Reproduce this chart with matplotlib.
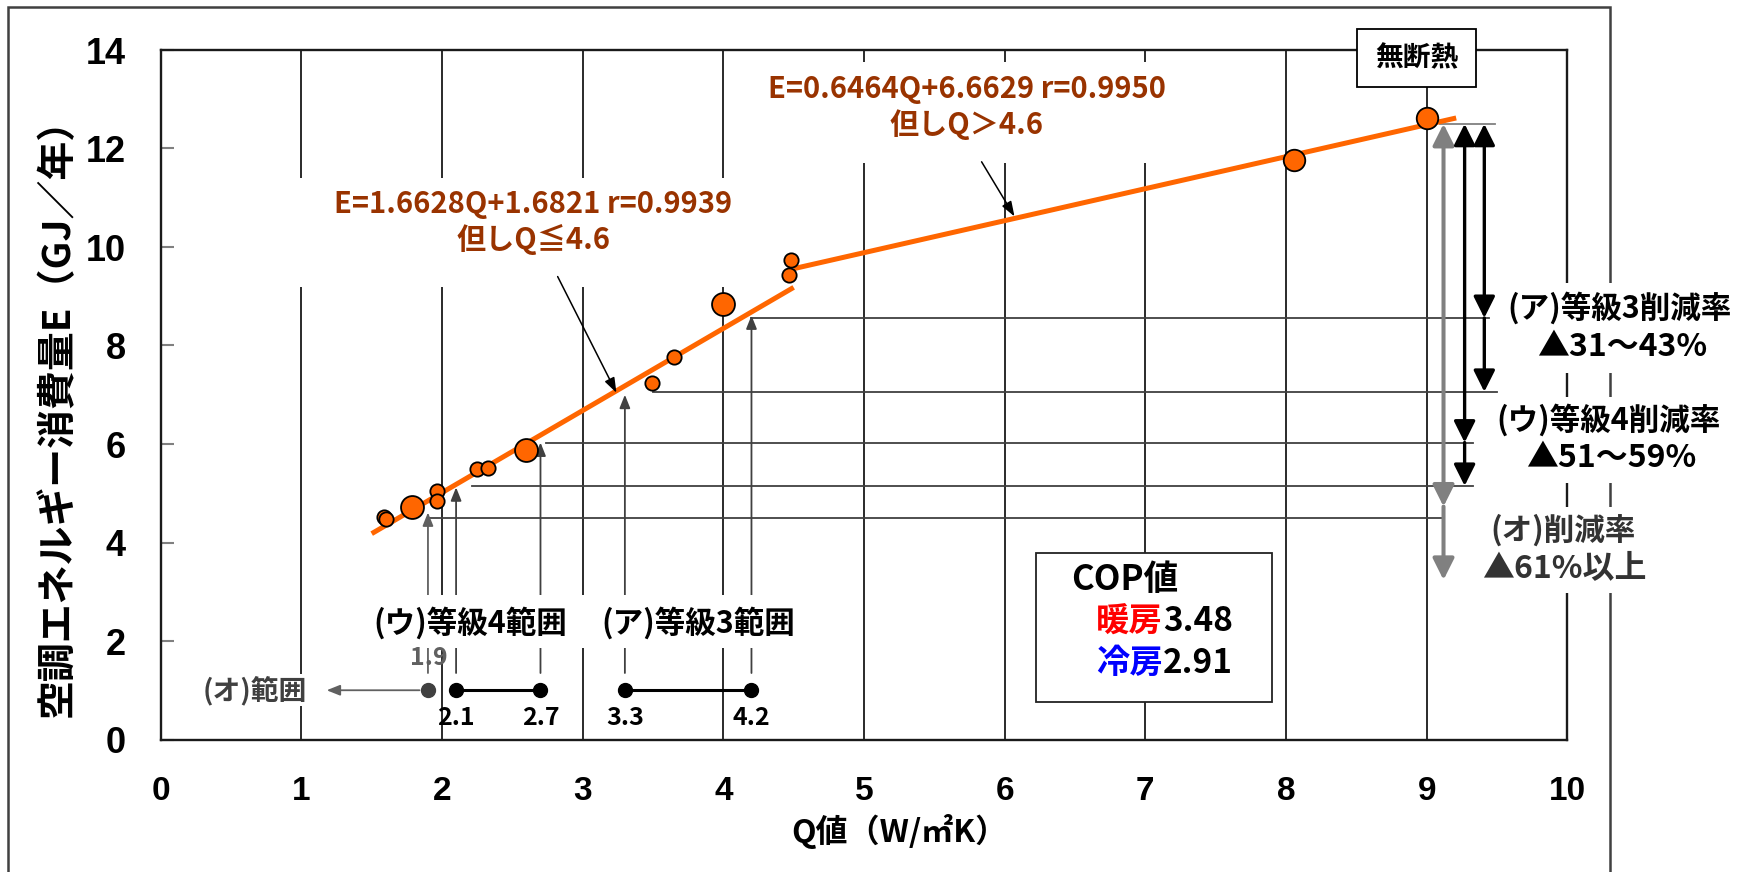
import matplotlib
matplotlib.use('Agg')
import matplotlib.pyplot as plt
from matplotlib.patches import Rectangle

plt.rcParams['font.family'] = ['Noto Sans CJK JP', 'DejaVu Sans']

# ---------------- data ----------------
q_small = [1.585, 1.60, 1.962, 1.962, 2.249, 2.325, 3.49, 3.65, 4.47, 4.48]
e_small = [4.51, 4.47, 5.05, 4.85, 5.49, 5.51, 7.24, 7.77, 9.43, 9.74]
q_large = [1.79, 2.597, 4.0]
e_large = [4.73, 5.88, 8.84]
q_mid = [8.055, 9.0]
e_mid = [11.77, 12.62]

line1_q = [1.5, 4.5]
line1_e = [4.18, 9.18]
line2_q = [4.5, 9.21]
line2_e = [9.56, 12.62]

# reference (horizontal) lines
ref_levels = [4.50, 5.15, 6.03, 7.06, 8.56]
ref_start = [1.91, 2.215, 2.74, 3.50, 4.20]
ref_end = [9.12, 9.33, 9.33, 9.50, 9.44]
top_level = 12.5
top_range = [9.095, 9.486]

# vertical arrows from ranges to regression line
arrow_q = [1.9, 2.1, 2.7, 3.3, 4.2]
arrow_tip = [4.61, 5.12, 6.03, 7.0, 8.61]
arrow_base = 1.35
arrow_colors = ['#606060', '#404040', '#404040', '#404040', '#404040']

# range dots
range_y = 1.0
range_o_q = [1.9]
range_u_q = [2.1, 2.7]
range_a_q = [3.3, 4.2]
range_labels = ['1.9', '2.1', '2.7', '3.3', '4.2']

# reduction arrows on right
red_x = [9.12, 9.27, 9.41]
red_mid = [4.73, 6.03, 8.56]
red_bot = [3.24, 5.15, 7.06]
red_colors = ['#808080', 'black', 'black']
red_lw = [2.9, 2.4, 2.4]

x_ticks = list(range(0, 11))
y_ticks = list(range(0, 15, 2))
x_ticklabels = [str(v) for v in x_ticks]
y_ticklabels = [str(v) for v in y_ticks]

ORANGE = '#FF6600'
BROWN = '#993300'

W, H = 1749, 872
fig = plt.figure(figsize=(W / 100, H / 100), dpi=100)
ax = fig.add_axes([160.7 / W, 1 - 739.5 / H, (1567.3 - 160.7) / W, (739.5 - 50) / H])
ax.set_xlim(0, 10)
ax.set_ylim(0, 14)

# outer frame
fig.add_artist(Rectangle((8 / W, -0.1), (1610 - 8) / W, 1.1 - 7.3 / H,
                         transform=fig.transFigure, fill=False, ec='#404040',
                         lw=1.8, zorder=-1))

ax.set_axisbelow(True)
ax.grid(axis='x', color='#2a2a2a', lw=1.4)
ax.grid(axis='y', visible=False)
for s in ax.spines.values():
    s.set_linewidth(1.7)
    s.set_color('#1a1a1a')

ax.set_xticks(x_ticks)
ax.set_yticks(y_ticks)
ax.set_xticklabels(x_ticklabels, fontfamily='Liberation Sans', fontweight='bold', fontsize=24)
ax.set_yticklabels(y_ticklabels, fontfamily='Liberation Sans', fontweight='bold', fontsize=26)
ax.tick_params(axis='x', length=0, pad=26)
ax.tick_params(axis='y', direction='in', length=9, width=1.5, color='#808080', pad=25)

fig.text(57 / W, 1 - 408 / H, '空調エネルギー消費量E（GJ／年）', rotation=90,
         ha='center', va='center', fontsize=28, fontweight='bold')
fig.text(899 / W, 1 - 831 / H, 'Q値（W/㎡K）', ha='center', va='center',
         fontsize=23, fontweight='bold')


def arrow(x0, y0, x1, y1, style, color, lw, hl, hw, z):
    ax.annotate('', xy=(x1, y1), xytext=(x0, y0),
                arrowprops=dict(arrowstyle=f'{style},head_length={hl},head_width={hw}',
                                color=color, lw=lw, shrinkA=0, shrinkB=0,
                                mutation_scale=1),
                zorder=z, annotation_clip=False)


def white_box(x0, y0, x1, y1, z=2.6, ec='none', lw=0):
    ax.add_patch(Rectangle((x0, y0), x1 - x0, y1 - y0, fc='white', ec=ec, lw=lw,
                           zorder=z, clip_on=False))


# horizontal reference lines
for lv, xs, xe in zip(ref_levels, ref_start, ref_end):
    ax.plot([xs, xe], [lv, lv], color='#404040', lw=1.3, zorder=1)
ax.plot(top_range, [top_level, top_level], color='#808080', lw=1.3, zorder=1)

# vertical arrows from range dots
for q, tip, c in zip(arrow_q, arrow_tip, arrow_colors):
    arrow(q, arrow_base, q, tip, '-|>', c, 1.3, 8, 3.2, 1)

# range dots
ax.plot(range_o_q, [range_y] * len(range_o_q), 'o', color='#404040', ms=10, zorder=4, clip_on=False)
ax.plot(range_u_q, [range_y] * 2, '-o', color='black', ms=10, lw=2.2, zorder=4)
ax.plot(range_a_q, [range_y] * 2, '-o', color='black', ms=10, lw=2.2, zorder=4)
arrow(range_o_q[0] - 0.06, range_y, 1.18, range_y, '-|>', '#606060', 1.3, 8, 3.2, 4)
ax.text(1.04, range_y, '(オ)範囲', ha='right', va='center', fontsize=20,
        fontweight='bold', color='#404040', zorder=5,
        bbox=dict(fc='white', ec='none', pad=1))

ax.text(arrow_q[0] + 0.005, 1.65, range_labels[0], ha='center', va='center', fontsize=18,
        fontweight='bold', color='#606060', zorder=5)
for q, lab in zip(arrow_q[1:], range_labels[1:]):
    ax.text(q, 0.44, lab, ha='center', va='center', fontsize=18, fontweight='bold',
            color='black', zorder=5)

# label box for grades
white_box(1.417, 1.86, 4.58, 2.93)
ax.text(2.20, 2.36, '(ウ)等級4範囲', ha='center', va='center', fontsize=22,
        fontweight='bold', zorder=5)
ax.text(3.82, 2.36, '(ア)等級3範囲', ha='center', va='center', fontsize=22,
        fontweight='bold', zorder=5)

# regression lines
ax.plot(line1_q, line1_e, color=ORANGE, lw=3.6, zorder=3, solid_capstyle='butt')
ax.plot(line2_q, line2_e, color=ORANGE, lw=3.6, zorder=3, solid_capstyle='butt')

# points
ax.plot(q_small, e_small, 'o', ms=10.3, mfc=ORANGE, mec='black', mew=1.3, zorder=4)
ax.plot(q_large, e_large, 'o', ms=16.5, mfc=ORANGE, mec='black', mew=1.3, zorder=4)
ax.plot(q_mid, e_mid, 'o', ms=15.5, mfc=ORANGE, mec='black', mew=1.3, zorder=4)

# equation 1
white_box(0.955, 9.19, 4.19, 11.40)
ax.text(2.65, 10.50, 'E=1.6628Q+1.6821 r=0.9939\n但しQ≦4.6', ha='center', va='center',
        fontsize=21, fontweight='bold', color=BROWN, linespacing=1.2, zorder=5)
arrow(2.822, 9.40, 3.24, 7.04, '-|>', 'black', 1.1, 9, 3.2, 5)

# equation 2
white_box(4.26, 11.71, 7.21, 13.76)
ax.text(5.73, 12.84, 'E=0.6464Q+6.6629 r=0.9950\n但しQ＞4.6', ha='center', va='center',
        fontsize=21, fontweight='bold', color=BROWN, linespacing=1.2, zorder=5)
arrow(5.836, 11.73, 6.07, 10.62, '-|>', 'black', 1.1, 9, 3.2, 5)

# 無断熱 box
white_box(8.507, 13.25, 9.35, 14.43, z=6, ec='black', lw=1.3)
ax.text(8.93, 13.84, '無断熱', ha='center', va='center', fontsize=20,
        fontweight='bold', zorder=7)

# reduction arrows
for x, mid, bot, c, lw in zip(red_x, red_mid, red_bot, red_colors, red_lw):
    arrow(x, mid, x, top_level, '<|-|>', c, lw, 13, 6.5, 3)
    arrow(x, mid, x, bot, '-|>', c, lw, 13, 6.5, 3)

# right-side text blocks
white_box(9.52, 7.44, 11.26, 9.27)
ax.text(10.37, 8.76, '(ア)等級3削減率', ha='center', va='center', fontsize=22,
        fontweight='bold', zorder=5, clip_on=False)
ax.text(10.39, 7.97, '▲31～43%', ha='center', va='center', fontsize=23,
        fontweight='bold', zorder=5, clip_on=False)
white_box(9.45, 5.21, 11.26, 6.95)
ax.text(10.29, 6.49, '(ウ)等級4削減率', ha='center', va='center', fontsize=22,
        fontweight='bold', zorder=5, clip_on=False)
ax.text(10.31, 5.72, '▲51～59%', ha='center', va='center', fontsize=23,
        fontweight='bold', zorder=5, clip_on=False)
white_box(9.37, 2.98, 11.26, 4.72)
ax.text(9.97, 4.25, '(オ)削減率', ha='center', va='center', fontsize=22,
        fontweight='bold', color='#333333', zorder=5, clip_on=False)
ax.text(9.98, 3.48, '▲61%以上', ha='center', va='center', fontsize=23,
        fontweight='bold', color='#333333', zorder=5, clip_on=False)

# COP box
white_box(6.22, 0.76, 7.90, 3.79, ec='#222222', lw=1.3)
ax.text(6.47, 3.24, 'COP値', ha='left', va='center', fontsize=25,
        fontweight='bold', zorder=5)
t1 = ax.text(6.65, 2.39, '暖房', ha='left', va='center', fontsize=24,
             fontweight='bold', color='#FF0000', zorder=5)
ax.annotate('3.48', xy=(1, 0.5), xycoords=t1, ha='left', va='center', fontsize=24,
            fontweight='bold', zorder=5)
t2 = ax.text(6.65, 1.55, '冷房', ha='left', va='center', fontsize=24,
             fontweight='bold', color='#0000FF', zorder=5)
ax.annotate('2.91', xy=(1, 0.5), xycoords=t2, ha='left', va='center', fontsize=24,
            fontweight='bold', zorder=5)

fig.savefig('out.png', dpi=100)
